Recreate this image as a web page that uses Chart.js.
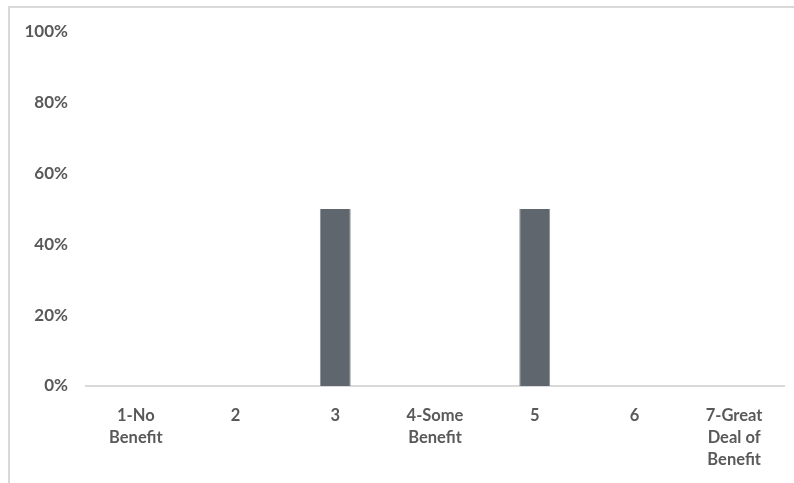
<!DOCTYPE html>
<html>
<head>
<meta charset="utf-8">
<script src="https://cdn.jsdelivr.net/npm/chart.js@4/dist/chart.umd.min.js"></script>
<style>
    body { margin: 0; background: #fff; }
    #wrap { position: relative; width: 794px; height: 483px; overflow: hidden; }
    #frame { position: absolute; left: 8px; top: 6px; width: 820px; height: 520px; border: 2px solid #d9d9d9; box-sizing: border-box; }
    #myChart { position: absolute; left: 0; top: 0; }
</style>
</head>
<body>
<div id="wrap">
    <div id="frame"></div>
    <canvas id="myChart" width="794" height="483"></canvas>
</div>
<script>
// chart values
const categories = [['1-No', 'Benefit'], '2', '3', ['4-Some', 'Benefit'], '5', '6', ['7-Great', 'Deal of', 'Benefit']];
const shares = [0, 0, 50, 0, 50, 0, 0];
const yTicks = [0, 20, 40, 60, 80, 100];

const labelColor = '#595959';

const ctx = document.getElementById('myChart').getContext('2d');

const myChart = new Chart(ctx, {
    type: 'bar',
    data: {
        labels: categories,
        datasets: [{
            data: shares,
            backgroundColor: '#60666e',
            borderColor: '#8a8f96',
            borderWidth: { left: 1, right: 1, top: 0, bottom: 0 },
            barPercentage: 0.31,
            categoryPercentage: 1
        }]
    },
    options: {
        responsive: false,
        animation: false,
        layout: { padding: { left: 0, right: 10, top: 32, bottom: 0 } },
        plugins: {
            legend: { display: false },
            tooltip: { enabled: false }
        },
        scales: {
            x: {
                grid: { display: false },
                border: { display: true, color: '#d9d9d9', width: 2 },
                ticks: {
                    font: { family: 'Lato', size: 16.5, weight: 'bold', lineHeight: 1.33 },
                    color: labelColor,
                    padding: 11,
                    maxRotation: 0,
                    autoSkip: false
                },
                afterFit: scale => { scale.height = 97; }
            },
            y: {
                min: 0,
                max: 100,
                afterBuildTicks: scale => { scale.ticks = yTicks.map(v => ({ value: v })); },
                grid: { display: false, drawTicks: false },
                border: { display: false },
                ticks: {
                    font: { family: 'Lato', size: 17, weight: 'bold' },
                    color: labelColor,
                    padding: 18,
                    callback: v => v + '%'
                },
                afterFit: scale => { scale.width = 86; }
            }
        }
    }
});
</script>
</body>
</html>
